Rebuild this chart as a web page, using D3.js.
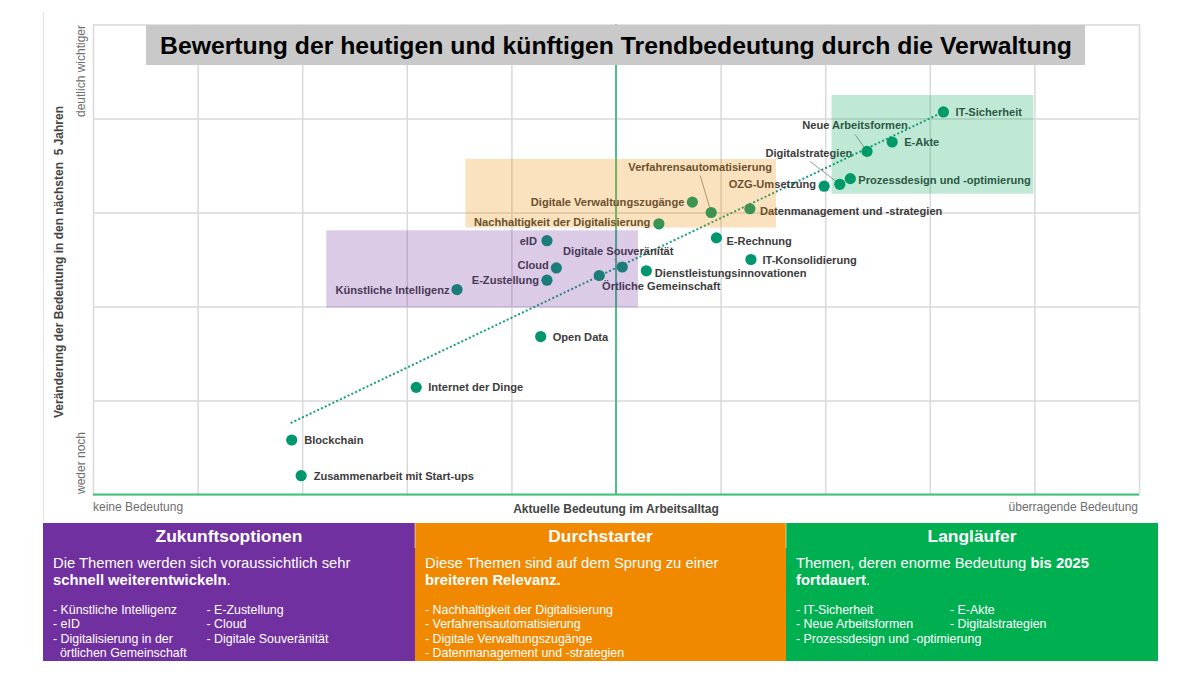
<!DOCTYPE html>
<html><head><meta charset="utf-8">
<script src="https://cdn.jsdelivr.net/npm/d3@7"></script>
<style>
html,body{margin:0;padding:0;background:#fff;}
svg text{font-family:"Liberation Sans",Arial,sans-serif;}
</style></head>
<body><svg id="c" width="1200" height="675"></svg>
<script>
// ---- data ----
const topics = ["IT-Sicherheit","E-Akte","Neue Arbeitsformen","Prozessdesign und -optimierung","Digitalstrategien","OZG-Umsetzung","Datenmanagement und -strategien","Verfahrensautomatisierung","Digitale Verwaltungszugänge","Nachhaltigkeit der Digitalisierung","E-Rechnung","IT-Konsolidierung","eID","Digitale Souveränität","Cloud","E-Zustellung","Örtliche Gemeinschaft","Dienstleistungsinnovationen","Künstliche Intelligenz","Open Data","Internet der Dinge","Blockchain","Zusammenarbeit mit Start-ups"];
const currentImportance = [8.13,7.64,7.40,7.24,7.14,6.99,6.28,5.91,5.73,5.41,5.96,6.29,4.34,5.06,4.43,4.34,4.84,5.29,3.48,4.28,3.09,1.90,1.99];
const futureChange = [4.07,3.75,3.65,3.36,3.30,3.28,3.04,3.00,3.11,2.88,2.73,2.50,2.70,2.42,2.41,2.28,2.33,2.38,2.18,1.68,1.14,0.58,0.20];
const trendX = [1.89, 8.13];
const trendY = [0.76, 4.07];
const xTicks = [0,1,2,3,4,5,6,7,8,9,10];
const yTicks = [0,1,2,3,4,5];
const regionNames = ["Zukunftsoptionen","Durchstarter","Langläufer"];
const regionX0 = [2.23, 3.56, 7.06];
const regionX1 = [5.21, 6.53, 8.99];
const regionY0 = [1.99, 2.84, 3.20];
const regionY1 = [2.81, 3.57, 4.25];
const title = "Bewertung der heutigen und künftigen Trendbedeutung durch die Verwaltung";
const xAxisTitle = "Aktuelle Bedeutung im Arbeitsalltag";
const yAxisTitle = "Veränderung der Bedeutung in den nächsten  5 Jahren";
const xLow = "keine Bedeutung", xHigh = "überragende Bedeutung";
const yLow = "weder noch", yHigh = "deutlich wichtiger";
const panelDesc = [
  [[["Die Themen werden sich voraussichtlich sehr",false]],[["schnell weiterentwickeln",true],[".",false]]],
  [[["Diese Themen sind auf dem Sprung zu einer",false]],[["breiteren Relevanz.",true]]],
  [[["Themen, deren enorme Bedeutung ",false],["bis 2025",true]],[["fortdauert",true],[".",false]]]
];
const panelCol1 = [
  ["- Künstliche Intelligenz","- eID","- Digitalisierung in der","  örtlichen Gemeinschaft"],
  ["- Nachhaltigkeit der Digitalisierung","- Verfahrensautomatisierung","- Digitale Verwaltungszugänge","- Datenmanagement und -strategien"],
  ["- IT-Sicherheit","- Neue Arbeitsformen","- Prozessdesign und -optimierung"]
];
const panelCol2 = [
  ["- E-Zustellung","- Cloud","- Digitale Souveränität"],
  [],
  ["- E-Akte","- Digitalstrategien"]
];

// ---- label placement (pixel offsets from point) ----
const labelPos = {
  "IT-Sicherheit":{dx:12,dy:0,a:"start"},
  "E-Akte":{dx:12,dy:0,a:"start"},
  "Neue Arbeitsformen":{dx:-12,dy:-26,a:"middle",lead:[-12,-17]},
  "Prozessdesign und -optimierung":{dx:8,dy:1,a:"start"},
  "Digitalstrategien":{dx:12.5,dy:-31.5,a:"end",lead:[-30,-23]},
  "OZG-Umsetzung":{dx:-8,dy:-2.5,a:"end"},
  "Datenmanagement und -strategien":{dx:10,dy:2.5,a:"start"},
  "Verfahrensautomatisierung":{dx:-11,dy:-45.5,a:"middle",lead:[-11,-37]},
  "Digitale Verwaltungszugänge":{dx:-8,dy:-0.5,a:"end"},
  "Nachhaltigkeit der Digitalisierung":{dx:-8.5,dy:-1.3,a:"end"},
  "E-Rechnung":{dx:10,dy:3,a:"start"},
  "IT-Konsolidierung":{dx:11.5,dy:0,a:"start"},
  "eID":{dx:-10,dy:0,a:"end"},
  "Digitale Souveränität":{dx:-4,dy:-16,a:"middle",lead:[-8,-8]},
  "Cloud":{dx:-7.5,dy:-2.5,a:"end"},
  "E-Zustellung":{dx:-8,dy:0,a:"end"},
  "Örtliche Gemeinschaft":{dx:62,dy:11,a:"middle"},
  "Dienstleistungsinnovationen":{dx:8.5,dy:2,a:"start"},
  "Künstliche Intelligenz":{dx:-7.5,dy:0,a:"end"},
  "Open Data":{dx:12,dy:0,a:"start"},
  "Internet der Dinge":{dx:12,dy:0,a:"start"},
  "Blockchain":{dx:12.5,dy:0,a:"start"},
  "Zusammenarbeit mit Start-ups":{dx:12.5,dy:0,a:"start"}
};

const svg = d3.select("#c");
const x = d3.scaleLinear().domain([0,10]).range([93,1139]);
const y = d3.scaleLinear().domain([0,5]).range([494.5,24.5]);

// frame line
svg.append("line").attr("x1",43.5).attr("x2",43.5).attr("y1",12).attr("y2",522).attr("stroke","#e3e3e3").attr("stroke-width",1);

// grid via axes
const gx = svg.append("g").attr("transform","translate(0,494.5)")
  .call(d3.axisBottom(x).tickValues(xTicks).tickSize(-470).tickFormat(""));
const gy = svg.append("g").attr("transform","translate(93,0)")
  .call(d3.axisLeft(y).tickValues(yTicks).tickSize(-1046).tickFormat(""));
[gx,gy].forEach(g=>{g.select(".domain").remove();g.selectAll(".tick line").attr("stroke","#d9d9d9").attr("stroke-width",1.5);});

// center line and x axis line
svg.append("line").attr("x1",x(5)).attr("x2",x(5)).attr("y1",y(5)).attr("y2",y(0)).attr("stroke","#4cbf8a").attr("stroke-width",2);
svg.append("line").attr("x1",x(0)).attr("x2",x(10)).attr("y1",y(0)).attr("y2",y(0)).attr("stroke","#3cc47c").attr("stroke-width",2);

// trend line
svg.append("line").attr("x1",x(trendX[0])).attr("y1",y(trendY[0])).attr("x2",x(trendX[1])).attr("y2",y(trendY[1]))
  .attr("stroke","#169c82").attr("stroke-width",2).attr("stroke-dasharray","2,2.2");

const pts = topics.map((t,i)=>({t, x:currentImportance[i], y:futureChange[i]}));

// leader lines
pts.forEach(p=>{
  const lp = labelPos[p.t];
  if(lp && lp.lead){
    svg.append("line").attr("x1",x(p.x)+lp.lead[0]).attr("y1",y(p.y)+lp.lead[1]).attr("x2",x(p.x)).attr("y2",y(p.y))
      .attr("stroke","#999").attr("stroke-width",1);
  }
});

// points
svg.append("g").selectAll("circle").data(pts).join("circle")
  .attr("cx",d=>x(d.x)).attr("cy",d=>y(d.y)).attr("r",5.6).attr("fill","#00966e");

// labels
svg.append("g").selectAll("text").data(pts).join("text")
  .attr("x",d=>x(d.x)+labelPos[d.t].dx).attr("y",d=>y(d.y)+labelPos[d.t].dy+4)
  .attr("text-anchor",d=>labelPos[d.t].a)
  .attr("font-size",11.1).attr("font-weight","bold").attr("fill","#3c3c3c").text(d=>d.t);

// region overlays
const regionColors = ["#7030a0","#f08a00","#00a858"];
svg.append("g").selectAll("rect").data(regionNames).join("rect")
  .attr("x",(d,i)=>x(regionX0[i])).attr("width",(d,i)=>x(regionX1[i])-x(regionX0[i]))
  .attr("y",(d,i)=>y(regionY1[i])).attr("height",(d,i)=>y(regionY0[i])-y(regionY1[i]))
  .attr("fill",(d,i)=>regionColors[i]).attr("opacity",0.25);

// title box
svg.append("rect").attr("x",146).attr("y",25).attr("width",939).attr("height",40).attr("fill","#c9c9c9");
svg.append("text").attr("x",160).attr("y",53.5).attr("font-size",23.5).attr("font-weight","bold").attr("fill","#000")
  .attr("textLength",912).attr("lengthAdjust","spacingAndGlyphs").text(title);

// axis texts
svg.append("text").attr("x",93).attr("y",511).attr("font-size",12).attr("fill","#6e6e6e").text(xLow);
svg.append("text").attr("x",1138).attr("y",511).attr("text-anchor","end").attr("font-size",12).attr("fill","#6e6e6e").text(xHigh);
svg.append("text").attr("x",616).attr("y",513).attr("text-anchor","middle").attr("font-size",12).attr("font-weight","bold").attr("fill","#444").text(xAxisTitle);
svg.append("text").attr("transform","translate(85,25) rotate(-90)").attr("text-anchor","end").attr("font-size",12).attr("fill","#6e6e6e").text(yHigh);
svg.append("text").attr("transform","translate(85,494) rotate(-90)").attr("text-anchor","start").attr("font-size",12).attr("fill","#6e6e6e").text(yLow);
svg.append("text").attr("transform","translate(63,262) rotate(-90)").attr("text-anchor","middle").attr("font-size",12).attr("font-weight","bold").attr("fill","#444").style("white-space","pre").text(yAxisTitle);

// bottom panels
const panelX0 = [43,415,786], panelX1 = [415,786,1158];
const panelFill = ["#7030a0","#f08800","#00b050"];
const colX2 = [206.5, null, 950];
regionNames.forEach((name,i)=>{
  const g = svg.append("g");
  g.append("rect").attr("x",panelX0[i]).attr("y",523).attr("width",panelX1[i]-panelX0[i]).attr("height",138).attr("fill",panelFill[i]);
  g.append("text").attr("x",(panelX0[i]+panelX1[i])/2).attr("y",542).attr("text-anchor","middle").attr("font-size",17.4).attr("font-weight","bold").attr("fill","#fff").text(name);
  const tx = panelX0[i]+10;
  panelDesc[i].forEach((line,li)=>{
    const t = g.append("text").attr("x",tx).attr("y",568+li*17).attr("font-size",14.8).attr("fill","#fff");
    line.forEach(seg=>t.append("tspan").attr("font-weight",seg[1]?"bold":"normal").text(seg[0]));
  });
  panelCol1[i].forEach((s,li)=>{
    g.append("text").attr("x",tx).attr("y",613.5+li*14.6).attr("font-size",12.4).attr("fill","#fff").style("white-space","pre").text(s);
  });
  panelCol2[i].forEach((s,li)=>{
    g.append("text").attr("x",colX2[i]).attr("y",613.5+li*14.6).attr("font-size",12.4).attr("fill","#fff").style("white-space","pre").text(s);
  });
});
[415,786].forEach(px=>svg.append("line").attr("x1",px).attr("x2",px).attr("y1",523).attr("y2",548).attr("stroke","#fff").attr("stroke-opacity",0.5).attr("stroke-width",1));
</script></body></html>
